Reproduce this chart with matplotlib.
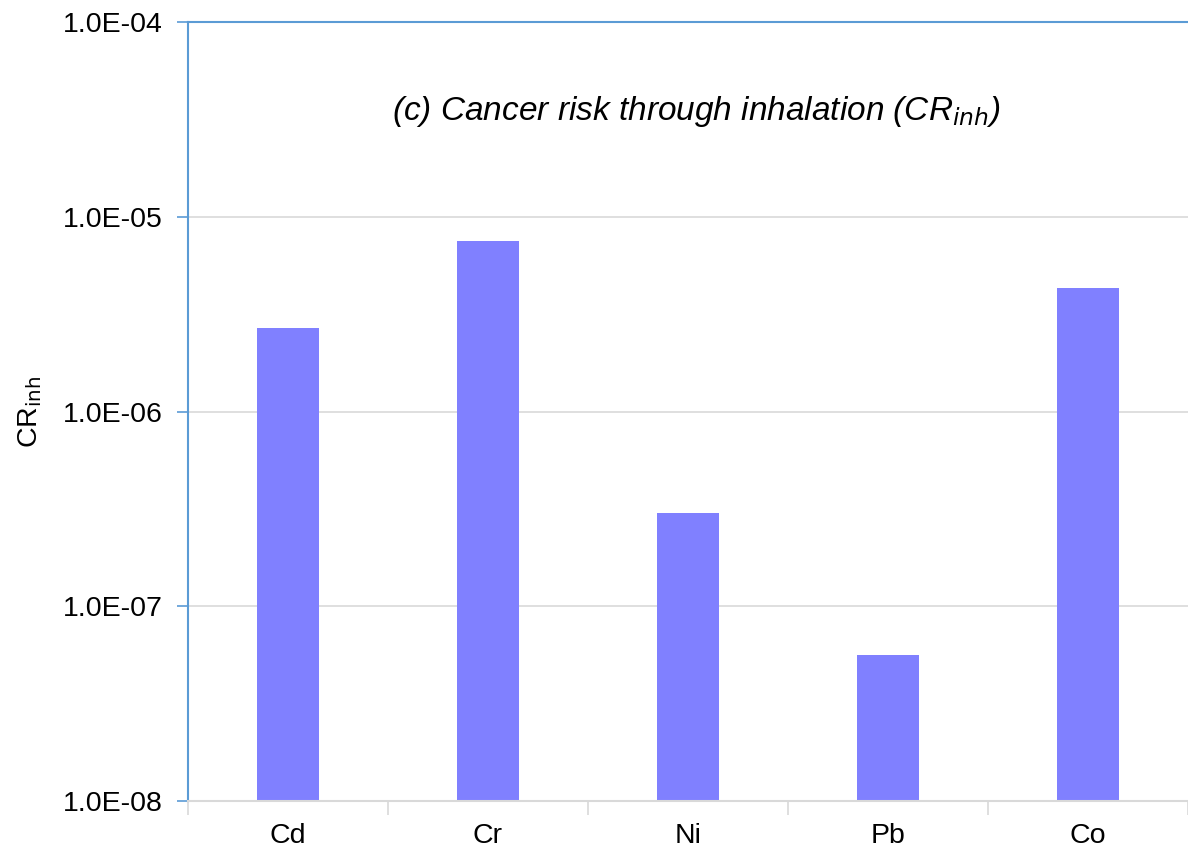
import matplotlib.pyplot as plt
from matplotlib.ticker import FixedLocator, FuncFormatter, NullFormatter

plt.rcParams['font.family'] = ['Liberation Sans', 'DejaVu Sans']

metals = ["Cd", "Cr", "Ni", "Pb", "Co"]
cr_inh = [2.69e-6, 7.5e-6, 3.0e-7, 5.6e-8, 4.3e-6]

fig = plt.figure(figsize=(11.88, 8.49), dpi=100)
ax = fig.add_axes([188/1188, 1 - 801/849, 1 - 188/1188, (801 - 22)/849])

x = list(range(len(metals)))
ax.bar(x, cr_inh, width=0.31, color="#8080FF", zorder=2)

ax.set_yscale("log")
ax.set_ylim(1e-8, 1e-4)
ax.set_xlim(-0.5, len(metals) - 0.5)

# y ticks
decades = [1e-8, 1e-7, 1e-6, 1e-5, 1e-4]
ax.yaxis.set_major_locator(FixedLocator(decades))
ax.yaxis.set_minor_locator(FixedLocator([]))
ax.yaxis.set_major_formatter(FuncFormatter(lambda v, p: "%.1E" % v))
ax.tick_params(axis="y", which="major", direction="out", length=8, width=1.2,
               color="#5B9BD5", labelsize=20.5, pad=10)
for d in decades[1:-1]:
    ax.axhline(d, color="#D9D9D9", lw=1.2, zorder=1)

# x ticks: labels at bars, tick marks at boundaries
ax.set_xticks(x)
ax.set_xticklabels(metals)
ax.tick_params(axis="x", which="major", length=0, labelsize=20.5, pad=16)
ax.xaxis.set_minor_locator(FixedLocator([i - 0.5 for i in range(len(metals) + 1)]))
ax.xaxis.set_minor_formatter(NullFormatter())
ax.tick_params(axis="x", which="minor", direction="out", length=10, width=1.2,
               color="#D9D9D9")

for s in ["left", "top"]:
    ax.spines[s].set_color("#5B9BD5")
    ax.spines[s].set_linewidth(1.5)
ax.spines["bottom"].set_color("#D9D9D9")
ax.spines["bottom"].set_linewidth(1.5)
ax.spines["right"].set_visible(False)

ax.set_ylabel(r"CR$_{\rm inh}$", fontsize=20.5, labelpad=14)

ax.text(0.508, 0.885, r"(c) Cancer risk through inhalation (CR$_{inh}$)",
        transform=ax.transAxes, ha="center", va="center",
        fontsize=24, style="italic")

fig.savefig("out.png", dpi=100)
